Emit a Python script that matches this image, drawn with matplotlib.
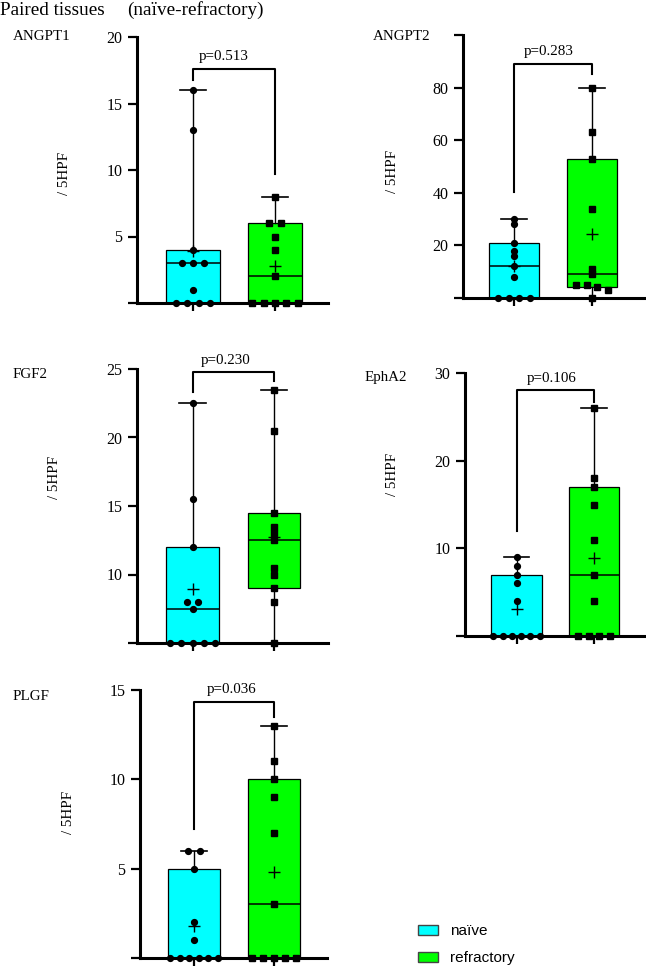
import numpy as np
import matplotlib
matplotlib.use('Agg')
import matplotlib.pyplot as plt
from matplotlib.patches import Patch

plt.rcParams['font.family'] = ['Liberation Serif', 'DejaVu Serif']

# ---- data (n = 11 paired tissues) ----
markers = ['ANGPT1', 'ANGPT2', 'FGF2', 'EphA2', 'PLGF']
groups = ['naïve', 'refractory']

angpt1_naive = [16, 13, 4, 3, 3, 3, 1, 0, 0, 0, 0]
angpt1_refr = [8, 6, 6, 5, 4, 2, 0, 0, 0, 0, 0]
angpt2_naive = [30, 28, 21, 18, 16, 12, 8, 0, 0, 0, 0]
angpt2_refr = [80, 63, 53, 34, 11, 9, 5, 5, 4, 3, 0]
fgf2_naive = [22.5, 15.5, 12, 8, 8, 7.5, 5, 5, 5, 5, 5]
fgf2_refr = [23.5, 20.5, 14.5, 13.5, 13, 12.5, 10.5, 10, 9, 8, 5]
epha2_naive = [9, 8, 7, 6, 4, 0, 0, 0, 0, 0, 0]
epha2_refr = [26, 18, 17, 15, 11, 7, 4, 0, 0, 0, 0]
plgf_naive = [6, 6, 5, 2, 1, 0, 0, 0, 0, 0, 0]
plgf_refr = [13, 11, 10, 9, 7, 3, 0, 0, 0, 0, 0]

p_values = ['p=0.513', 'p=0.283', 'p=0.230', 'p=0.106', 'p=0.036']

y_limits = [(0, 20), (0, 100), (5, 25), (0, 30), (0, 15)]
y_ticks = [[0, 5, 10, 15, 20], [0, 20, 40, 60, 80, 100], [5, 10, 15, 20, 25],
           [0, 10, 20, 30], [0, 5, 10, 15]]
y_ticklabels = [['', '5', '10', '15', '20'], ['', '20', '40', '60', '80', ''],
                ['', '10', '15', '20', '25'], ['', '10', '20', '30'],
                ['', '5', '10', '15']]

all_data = [(angpt1_naive, angpt1_refr), (angpt2_naive, angpt2_refr),
            (fgf2_naive, fgf2_refr), (epha2_naive, epha2_refr),
            (plgf_naive, plgf_refr)]

# ---- layout in pixels: left spine, right end, top, bottom, first box centre, second box centre ----
W, H = 646, 968
layout = [
    (137, 328, 37, 303, 193, 275),
    (463, 646, 35, 298, 514, 592),
    (137, 328, 369, 643, 192.5, 274),
    (465, 646, 373, 636, 516.5, 594),
    (140, 327, 690, 958, 194, 274),
]
# bracket: top, left leg end, right leg end, text x, text y (data units)
brackets = [
    (17.6, 16.8, 9.7, 1.38, 18.5),
    (89, 40.4, 85, 1.44, 93.7),
    (24.8, 23.3, 24.1, 1.41, 25.6),
    (28.1, 12.0, 26.7, 1.46, 29.4),
    (14.34, 7.2, 13.5, 1.475, 15.05),
]
# panel name / y label positions (pixels)
name_pos = [(13, 37), (373, 36), (13, 374), (365, 378), (13, 696)]
ylab_pos = [(64, 173), (392, 171), (55, 477), (392, 474), (69, 812)]

colors = ['#00FFFF', '#00FF00']
point_marker = ['o', 's']
box_w = 0.65


def box_stats(vals):
    v = np.asarray(vals, dtype=float)
    q1, med, q3 = np.percentile(v, [25, 50, 75], method='weibull')
    return dict(med=med, q1=q1, q3=q3, whislo=v.min(), whishi=v.max(),
                mean=v.mean(), fliers=[])


def spread(vals, tol, step, max_half):
    # GraphPad-like horizontal spread of overlapping points
    order = np.argsort(vals)[::-1]
    offs = np.zeros(len(vals))
    grp = [order[0]]
    groups_ = []
    for i in order[1:]:
        if abs(vals[grp[-1]] - vals[i]) < tol:
            grp.append(i)
        else:
            groups_.append(grp)
            grp = [i]
    groups_.append(grp)
    for g in groups_:
        k = len(g)
        if k == 1:
            continue
        s = step
        if (k - 1) / 2 * s > max_half:
            s = max_half / ((k - 1) / 2)
        for j, idx in enumerate(g):
            offs[idx] = (j - (k - 1) / 2) * s
    return offs


fig = plt.figure(figsize=(W / 100, H / 100), dpi=100)

for k in range(5):
    l, r, t, b, c1, c2 = layout[k]
    ax = fig.add_axes([l / W, 1 - b / H, (r - l) / W, (b - t) / H])
    sp = c2 - c1
    ax.set_xlim(1 - (c1 - l) / sp, 2 + (r - c2) / sp)
    ax.set_ylim(*y_limits[k])

    naive, refr = all_data[k]
    stats = [box_stats(naive), box_stats(refr)]
    bp = ax.bxp(stats, positions=[1, 2], widths=box_w, patch_artist=True,
                showmeans=True, showfliers=False,
                boxprops=dict(edgecolor='black', linewidth=0.9),
                whiskerprops=dict(color='black', linewidth=1.0),
                capprops=dict(color='black', linewidth=1.2),
                medianprops=dict(color='black', linewidth=1.1),
                meanprops=dict(marker='+', markeredgecolor='black',
                               markersize=9, markeredgewidth=1.0))
    for patch, c in zip(bp['boxes'], colors):
        patch.set_facecolor(c)
    for m in bp['means']:
        m.set_zorder(5)

    px_per_unit = (b - t) / (y_limits[k][1] - y_limits[k][0])
    tol = 5.0 / px_per_unit
    for gi, vals in enumerate([naive, refr]):
        vals = np.asarray(vals, dtype=float)
        offs = spread(vals, tol, 0.14, box_w * 0.46)
        ax.plot(gi + 1 + offs, vals, linestyle='none', marker=point_marker[gi],
                color='black', markersize=4.2, clip_on=False, zorder=6)

    # significance bracket
    top, lleg, rleg, tx, ty = brackets[k]
    ax.plot([1, 1, 2, 2], [lleg, top, top, rleg], color='black',
            linewidth=1.5, clip_on=False, zorder=4)
    ax.text(tx, ty, p_values[k], ha='center', va='center', fontsize=10.8)

    for s in ['top', 'right']:
        ax.spines[s].set_visible(False)
    for s in ['left', 'bottom']:
        ax.spines[s].set_linewidth(2.2)
    ax.set_xticks([1, 2])
    ax.set_xticklabels(['', ''])
    ax.set_yticks(y_ticks[k])
    ax.set_yticklabels(y_ticklabels[k])
    ax.tick_params(axis='y', length=6.5, width=1.6, pad=4, labelsize=11.5)
    ax.tick_params(axis='x', length=6, width=1.6)

    nx, ny = name_pos[k]
    fig.text(nx / W, 1 - ny / H, markers[k], ha='left', va='center', fontsize=10.8)
    lx, ly = ylab_pos[k]
    fig.text(lx / W, 1 - ly / H, '/ 5HPF', ha='center', va='center',
             rotation=90, fontsize=10.8)

fig.text(0 / W, 1 - 15 / H, 'Paired tissues', ha='left', va='baseline', fontsize=13.8)
fig.text(127 / W, 1 - 15 / H, '(naïve-refractory)', ha='left', va='baseline', fontsize=13.8)

handles = [Patch(facecolor=c, edgecolor='#444444', linewidth=1.0) for c in colors]
fig.legend(handles, groups, loc='upper left', bbox_to_anchor=(412 / W, 1 - 918 / H),
           frameon=False, prop={'family': 'Liberation Sans', 'size': 11},
           handlelength=1.3, handleheight=0.65, handletextpad=0.8,
           labelspacing=0.85, borderaxespad=0, borderpad=0.4)

fig.savefig('out.png', dpi=100)
